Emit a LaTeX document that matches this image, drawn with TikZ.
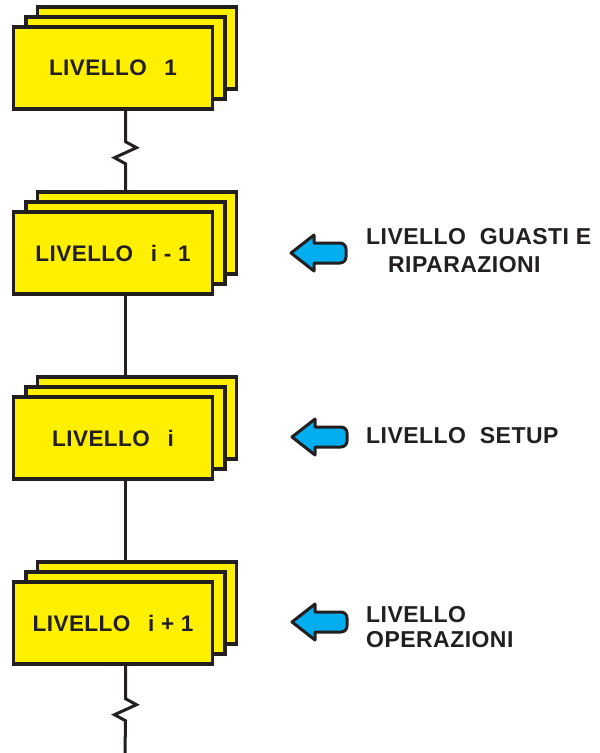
\documentclass[tikz,border=0pt]{standalone}
\usepackage{fontspec}
\setmainfont{Liberation Sans}
\newfontfamily\lvfont[LetterSpace=2]{Liberation Sans}
\definecolor{ink}{HTML}{231F20}
\definecolor{lvyellow}{HTML}{FFF000}
\definecolor{arrowblue}{HTML}{00AEEF}
\newcommand\lvstack[3]{%
  \node[card] (#1b) at (137,#2-20+41) {};
  \node[card] (#1m) at (125.5,#2-10+41) {};
  \node[card,lbl] (#1f) at (113,#2+41) {#3};
}
\newcommand\lvarrow[3]{%
  \draw[larrow] (#2,#3) coordinate (#1) -- ++(23,-18) -- ++(0,8) -- ++(26,0)
    arc[start angle=-90,end angle=0,radius=6] -- ++(0,8)
    arc[start angle=0,end angle=90,radius=6] -- ++(-26,0) -- ++(0,8) -- cycle;
}
\begin{document}
\begin{tikzpicture}[x=1pt,y=-1pt,
  card/.style={draw=ink, fill=lvyellow, line width=3.4pt, minimum width=199pt,
    minimum height=82pt, inner sep=0pt, line join=miter},
  lbl/.style={font=\lvfont\bfseries\fontsize{22.5}{26}\selectfont, text=ink},
  side/.style={font=\lvfont\bfseries\fontsize{23}{26}\selectfont, text=ink,
    anchor=base west, inner sep=0pt},
  wire/.style={draw=ink, line width=3pt},
  larrow/.style={draw=ink, fill=arrowblue, line width=3pt, line join=round}]
\useasboundingbox (0,0) rectangle (600,753);

\lvstack{s1}{27}{LIVELLO\hspace{11pt} 1}
\lvstack{s2}{212}{LIVELLO\hspace{11pt} i - 1}
\lvstack{s3}{397}{LIVELLO\hspace{11pt} i}
\lvstack{s4}{582}{LIVELLO\hspace{11pt} i + 1}

% connectors
\draw[wire] (s1f.south -| s1m.south) -- ++(0,31) -- ++(11,6) -- ++(-22,10) -- ++(11,6)
  -- (s2b.north -| s2m.north);
\draw[wire] (s2f.south -| s2m.south) -- (s3b.north -| s3m.north);
\draw[wire] (s3f.south -| s3m.south) -- (s4b.north -| s4m.north);
\coordinate (endpt) at (125,753);
\draw[wire] (s4f.south -| s4m.south) -- ++(0,33) -- ++(11,6) -- ++(-22,10) -- ++(11,6)
  -- (endpt);

% arrows and labels
\lvarrow{a1}{291}{253}
\node[side] (t1a) at (366,244) {LIVELLO\hspace{7pt} GUASTI E};
\node[side] (t1b) at (388,272) {RIPARAZIONI};

\lvarrow{a2}{292}{437}
\node[side] (t2a) at (366,443) {LIVELLO\hspace{7pt} SETUP};

\lvarrow{a3}{292}{622}
\node[side] (t3a) at (366,622) {LIVELLO};
\node[side] (t3b) at (366,647) {OPERAZIONI};
\end{tikzpicture}
\end{document}
